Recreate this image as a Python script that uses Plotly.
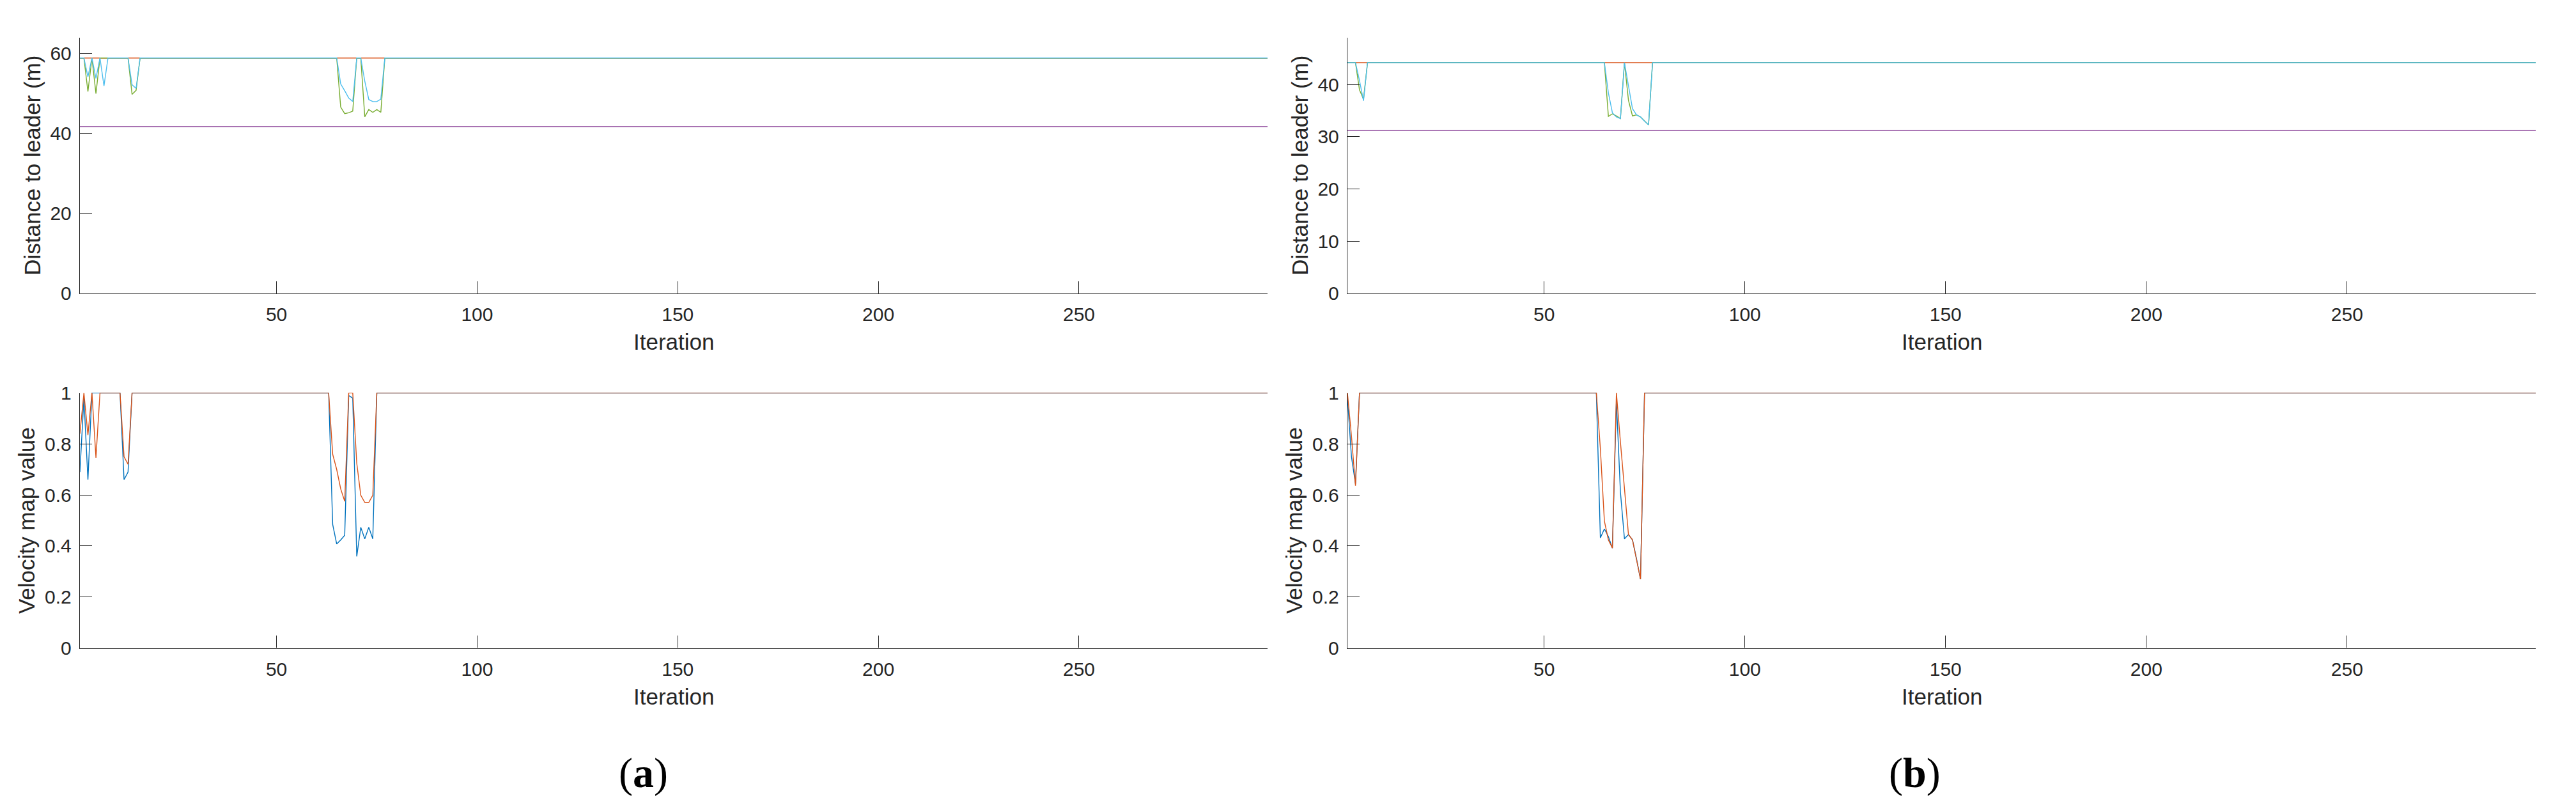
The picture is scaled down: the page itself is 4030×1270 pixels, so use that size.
import plotly.graph_objects as go

# ---------------- data ----------------
# (a) Distance to leader (m): breakpoints of each line (straight between)
dist_a_iter = [1, 2, 3, 4, 5, 6, 7, 8, 13, 14, 15, 16, 65, 66, 67, 68, 69, 70, 71, 72, 73, 74, 75, 76, 77, 297]
dist_a_cyan = [58.9, 58.9, 54.2, 58.9, 53.8, 58.9, 51.9, 58.9, 58.9, 52.2, 51.3, 58.9, 58.9, 52.4, 50.7, 48.9, 48.0,
               58.9, 58.9, 53.1, 48.5, 48.0, 48.0, 48.6, 58.9, 58.9]
dist_a_green = [58.9, 58.9, 50.5, 58.9, 50.0, 58.9, 58.9, 58.9, 58.9, 49.8, 50.8, 58.9, 58.9, 46.6, 45.0, 45.2, 45.6,
                58.9, 58.9, 44.2, 46.0, 45.3, 46.0, 45.3, 58.9, 58.9]
dist_a_const_iter = [1, 297]
dist_a_orange = [58.9, 58.9]
dist_a_purple = [41.7, 41.7]

# (a) Velocity map value
vel_a_iter = [1, 2, 3, 4, 5, 6, 11, 12, 13, 14, 63, 64, 65, 66, 67, 68, 69, 70, 71, 72, 73, 74, 75, 297]
vel_a_blue = [0.69, 0.98, 0.66, 1, 1, 1, 1, 0.66, 0.69, 1, 1, 0.485, 0.408, 0.424, 0.442, 0.99, 0.98,
              0.359, 0.473, 0.428, 0.473, 0.428, 1, 1]
vel_a_orange = [0.84, 1, 0.835, 1, 0.746, 1, 1, 0.75, 0.72, 1, 1, 0.76, 0.70, 0.624, 0.575, 1, 1,
                0.725, 0.599, 0.571, 0.571, 0.599, 1, 1]

# (b) Distance to leader (m)
dist_b_iter = [1, 3, 4, 5, 6, 65, 66, 67, 68, 69, 70, 71, 72, 73, 74, 75, 76, 77, 297]
dist_b_cyan = [44.2, 44.2, 40.8, 36.9, 44.2, 44.2, 38.4, 34.6, 33.8, 33.5, 44.2, 39.6, 35.4, 34.2, 33.8, 33.0, 32.3,
               44.2, 44.2]
dist_b_green = [44.2, 44.2, 39.0, 37.2, 44.2, 44.2, 33.9, 34.4, 34.0, 33.5, 44.2, 37.0, 34.0, 34.2, 33.8, 33.0, 32.3,
                44.2, 44.2]
dist_b_const_iter = [1, 297]
dist_b_orange = [44.2, 44.2]
dist_b_purple = [31.2, 31.2]

# (b) Velocity map value
vel_b_iter = [1, 2, 3, 4, 63, 64, 65, 66, 67, 68, 69, 70, 71, 72, 73, 74, 75, 297]
vel_b_blue = [0.98, 0.75, 0.644, 1, 1, 0.432, 0.467, 0.437, 0.392, 0.969, 0.611, 0.428, 0.445, 0.424, 0.351, 0.27, 1, 1]
vel_b_orange = [1, 0.831, 0.636, 1, 1, 0.782, 0.498, 0.424, 0.392, 1, 0.807, 0.628, 0.445, 0.424, 0.351, 0.27, 1, 1]

x_ticks = [50, 100, 150, 200, 250]
dist_a_ticks = [0, 20, 40, 60]
dist_b_ticks = [0, 10, 20, 30, 40]
vel_ticks = [0, 0.2, 0.4, 0.6, 0.8, 1]
vel_tick_labels = ["0", "0.2", "0.4", "0.6", "0.8", "1"]

# ---------------- styling ----------------
C_BLUE = "#0072BD"
C_ORANGE = "#D95319"
C_PURPLE = "#7E2F8E"
C_GREEN = "#77AC30"
C_CYAN = "#4DBEEE"
AX = "#262626"
LW = 1.4

W, H = 4030, 1270

fig = go.Figure()


def line(x, y, color, xa, ya):
    fig.add_trace(go.Scatter(x=x, y=y, mode="lines", line=dict(color=color, width=LW),
                             xaxis=xa, yaxis=ya, showlegend=False, hoverinfo="skip"))


# (a) top
line(dist_a_const_iter, dist_a_orange, C_ORANGE, "x", "y")
line(dist_a_const_iter, dist_a_purple, C_PURPLE, "x", "y")
line(dist_a_iter, dist_a_green, C_GREEN, "x", "y")
line(dist_a_iter, dist_a_cyan, C_CYAN, "x", "y")
# (a) bottom
line(vel_a_iter, vel_a_blue, C_BLUE, "x2", "y2")
line(vel_a_iter, vel_a_orange, C_ORANGE, "x2", "y2")
# (b) top
line(dist_b_const_iter, dist_b_orange, C_ORANGE, "x3", "y3")
line(dist_b_const_iter, dist_b_purple, C_PURPLE, "x3", "y3")
line(dist_b_iter, dist_b_green, C_GREEN, "x3", "y3")
line(dist_b_iter, dist_b_cyan, C_CYAN, "x3", "y3")
# (b) bottom
line(vel_b_iter, vel_b_blue, C_BLUE, "x4", "y4")
line(vel_b_iter, vel_b_orange, C_ORANGE, "x4", "y4")

tick_font = dict(family="Liberation Sans, Arial, sans-serif", size=30, color=AX)
title_font = dict(family="Liberation Sans, Arial, sans-serif", size=35, color=AX)

LEFT_A = (125, 1983)
LEFT_B = (2108, 3967)
TOP_ROW = (43, 454)
BOT_ROW = (614, 1024)


def xdom(p):
    return [p[0] / W, p[1] / W]


def ydom(p):
    return [1 - p[1] / H, 1 - p[0] / H]


def xaxis(dom, anchor):
    return dict(domain=xdom(dom), anchor=anchor, range=[1, 297], tickvals=x_ticks,
                ticks="inside", ticklen=19, tickwidth=LW, tickcolor=AX,
                showline=True, linecolor=AX, linewidth=LW, showgrid=False, zeroline=False,
                tickfont=tick_font, ticklabelstandoff=6)


def yaxis(dom, anchor, rng, tv, tt=None):
    d = dict(domain=ydom(dom), anchor=anchor, range=rng, tickvals=tv,
             ticks="inside", ticklen=19, tickwidth=LW, tickcolor=AX,
             showline=True, linecolor=AX, linewidth=LW, showgrid=False, zeroline=False,
             tickfont=tick_font, ticklabelstandoff=6)
    if tt is not None:
        d["ticktext"] = tt
    return d


fig.update_layout(
    width=W, height=H,
    margin=dict(l=0, r=0, t=0, b=0),
    paper_bgcolor="white", plot_bgcolor="white",
    xaxis=xaxis(LEFT_A, "y"), yaxis=yaxis(TOP_ROW, "x", [0, 64], dist_a_ticks),
    xaxis2=xaxis(LEFT_A, "y2"), yaxis2=yaxis(BOT_ROW, "x2", [0, 1], vel_ticks, vel_tick_labels),
    xaxis3=xaxis(LEFT_B, "y3"), yaxis3=yaxis(TOP_ROW, "x3", [0, 49], dist_b_ticks),
    xaxis4=xaxis(LEFT_B, "y4"), yaxis4=yaxis(BOT_ROW, "x4", [0, 1], vel_ticks, vel_tick_labels),
)


def ann(text, px, py, font, angle=0):
    fig.add_annotation(text=text, x=px / W, y=1 - py / H, xref="paper", yref="paper",
                       xanchor="center", yanchor="middle", showarrow=False, font=font,
                       textangle=angle)


for left in (LEFT_A, LEFT_B):
    cx = (left[0] + left[1]) / 2
    ann("Distance to leader (m)", left[0] - 74, (TOP_ROW[0] + TOP_ROW[1]) / 2, title_font, -90)
    ann("Velocity map value", left[0] - 84, (BOT_ROW[0] + BOT_ROW[1]) / 2, title_font, -90)
    ann("Iteration", cx, 532, title_font)
    ann("Iteration", cx, 1102, title_font)

label_font = dict(family="Liberation Serif, Times New Roman, serif", size=66, color="black")
ann("(<b>a</b>)", 1006, 1225, label_font)
ann("(<b>b</b>)", 2995, 1225, label_font)

fig.write_html("out.html", config={"displayModeBar": False},
               post_script="document.body.style.margin='0';")
